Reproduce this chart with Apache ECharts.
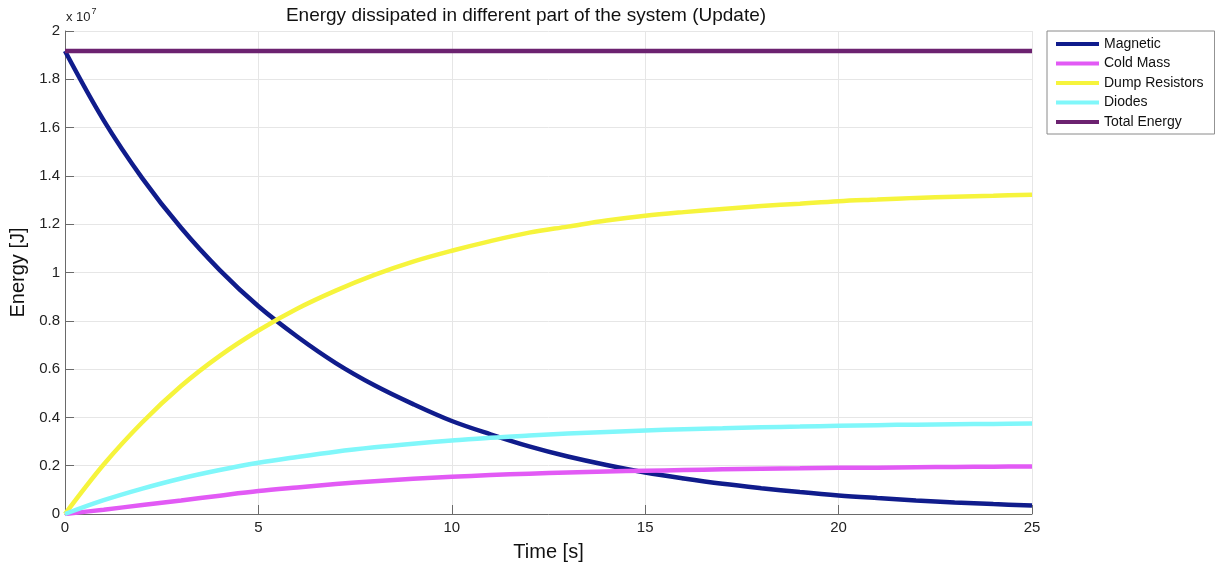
<!DOCTYPE html>
<html>
<head>
<meta charset="utf-8">
<title>Energy dissipated in different part of the system (Update)</title>
<script src="https://cdn.jsdelivr.net/npm/echarts@6/dist/echarts.min.js"></script>
<style>
  html, body { margin: 0; padding: 0; background: #ffffff; }
  #chart { width: 1215px; height: 567px; }
</style>
</head>
<body>
<div id="chart"></div>
<script>
// Time samples [s]
const time = [0, 1, 2, 3, 4, 5, 6, 7, 8, 9, 10, 11, 12, 13, 14, 15, 16, 17, 18, 19, 20, 21, 22, 23, 24, 25];

// Energies in units of 10^7 J
const magnetic = [1.917, 1.63, 1.39, 1.185, 1.01, 0.86, 0.735, 0.625, 0.533, 0.455, 0.385, 0.33, 0.28, 0.238, 0.203, 0.172, 0.147, 0.125, 0.107, 0.091, 0.077, 0.066, 0.056, 0.048, 0.041, 0.035];
const coldMass = [0, 0.018, 0.037, 0.056, 0.076, 0.095, 0.11, 0.124, 0.136, 0.146, 0.154, 0.161, 0.167, 0.172, 0.176, 0.179, 0.182, 0.185, 0.187, 0.189, 0.191, 0.192, 0.194, 0.195, 0.196, 0.197];
const dumpResistors = [0, 0.205, 0.38, 0.53, 0.655, 0.76, 0.85, 0.925, 0.99, 1.045, 1.09, 1.13, 1.165, 1.19, 1.215, 1.235, 1.25, 1.263, 1.275, 1.285, 1.295, 1.302, 1.309, 1.314, 1.318, 1.322];
const diodes = [0, 0.057, 0.105, 0.147, 0.182, 0.212, 0.236, 0.258, 0.276, 0.291, 0.304, 0.316, 0.325, 0.333, 0.34, 0.346, 0.351, 0.355, 0.359, 0.362, 0.365, 0.368, 0.37, 0.372, 0.373, 0.375];
const totalEnergy = [1.917, 1.917, 1.917, 1.917, 1.917, 1.917, 1.917, 1.917, 1.917, 1.917, 1.917, 1.917, 1.917, 1.917, 1.917, 1.917, 1.917, 1.917, 1.917, 1.917, 1.917, 1.917, 1.917, 1.917, 1.917, 1.917];

const seriesNames = ['Magnetic', 'Cold Mass', 'Dump Resistors', 'Diodes', 'Total Energy'];
const seriesValues = [magnetic, coldMass, dumpResistors, diodes, totalEnergy];
const seriesColors = ['#101c8c', '#e25af5', '#f6f43c', '#80f7fa', '#6c2270'];

const yTicks = { min: 0, max: 2, interval: 0.2 };
const xTicks = { min: 0, max: 25, interval: 5 };

const FONT = 'Liberation Sans, Arial, Helvetica, sans-serif';

const chart = echarts.init(document.getElementById('chart'), null, { renderer: 'canvas' });

const series = seriesNames.map((name, i) => ({
  name: name,
  type: 'line',
  data: time.map((t, k) => [t, seriesValues[i][k]]),
  smooth: 0.35,
  showSymbol: false,
  symbol: 'none',
  lineStyle: { width: 4.5, color: seriesColors[i] },
  itemStyle: { color: seriesColors[i] },
  emphasis: { disabled: true },
  animation: false,
  z: 2 + i
}));

chart.setOption({
  backgroundColor: '#ffffff',
  animation: false,
  title: {
    text: 'Energy dissipated in different part of the system (Update)',
    left: 521,
    textAlign: 'center',
    top: 1,
    textStyle: { fontFamily: FONT, fontSize: 19, fontWeight: 'normal', color: '#111' }
  },
  grid: { left: 65, right: 183, top: 31, bottom: 52, containLabel: false },
  legend: {
    data: seriesNames,
    orient: 'vertical',
    left: 1047,
    top: 31,
    width: 166,
    padding: [5, 11, 4, 9],
    itemGap: 3.5,
    itemWidth: 43,
    itemHeight: 4,
    icon: 'rect',
    borderColor: '#8a8a8a',
    borderWidth: 1,
    backgroundColor: '#ffffff',
    textStyle: { fontFamily: FONT, fontSize: 14, color: '#111', lineHeight: 16, padding: [0, 0, 0, 0] },
    selectedMode: false
  },
  xAxis: {
    type: 'value',
    min: xTicks.min,
    max: xTicks.max,
    interval: xTicks.interval,
    name: 'Time [s]',
    nameLocation: 'middle',
    nameGap: 28,
    nameTextStyle: { fontFamily: FONT, fontSize: 20, color: '#111' },
    axisLine: { show: true, onZero: false, lineStyle: { color: '#6a6a6a', width: 1 } },
    axisTick: { show: true, inside: true, length: 9, lineStyle: { color: '#6a6a6a' } },
    axisLabel: { fontFamily: FONT, fontSize: 15, color: '#222', margin: 6 },
    splitLine: { show: true, lineStyle: { color: '#e6e6e6', width: 1 } }
  },
  yAxis: {
    type: 'value',
    min: yTicks.min,
    max: yTicks.max,
    interval: yTicks.interval,
    name: 'Energy [J]',
    nameLocation: 'middle',
    nameGap: 32,
    nameRotate: 90,
    nameTextStyle: { fontFamily: FONT, fontSize: 20, color: '#111' },
    axisLine: { show: true, onZero: false, lineStyle: { color: '#6a6a6a', width: 1 } },
    axisTick: { show: true, inside: true, length: 9, lineStyle: { color: '#6a6a6a' } },
    axisLabel: {
      fontFamily: FONT, fontSize: 15, color: '#222', margin: 5,
      formatter: v => String(Math.round(v * 10) / 10)
    },
    splitLine: { show: true, lineStyle: { color: '#e6e6e6', width: 1 } }
  },
  graphic: [
    {
      type: 'text',
      left: 66,
      top: 7,
      style: {
        text: '{b|x 10}{s|7}',
        rich: {
          b: { fontFamily: FONT, fontSize: 13, fill: '#222', verticalAlign: 'bottom' },
          s: { fontFamily: FONT, fontSize: 9, fill: '#222', verticalAlign: 'top', padding: [0, 0, 8, 1] }
        }
      }
    }
  ],
  series: series
});
</script>
</body>
</html>
